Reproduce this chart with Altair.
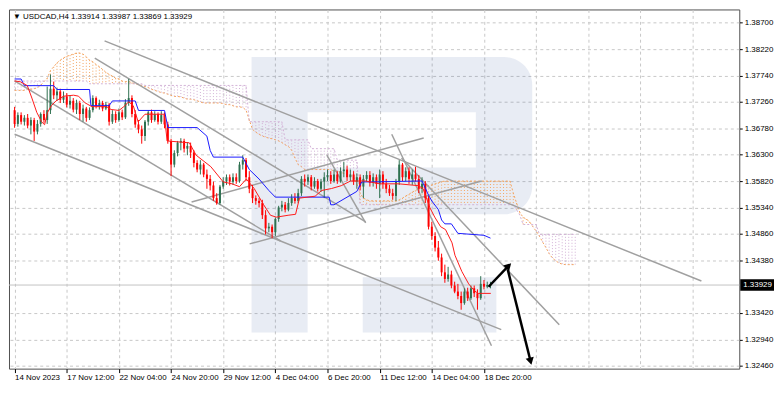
import altair as alt
import pandas as pd

FONT = "Liberation Sans"
W, H = 736, 362
X_DOM = [-0.2, 220.8]
Y_DOM = [1.32408, 1.38942]

title_text = "\u25bc USDCAD,H4  1.33914 1.33987 1.33869 1.33929"
date_labels = ["14 Nov 2023", "17 Nov 12:00", "22 Nov 04:00", "24 Nov 20:00", "29 Nov 12:00",
               "4 Dec 04:00", "6 Dec 20:00", "11 Dec 12:00", "14 Dec 04:00", "18 Dec 20:00"]
y_ticks = [1.3246, 1.3294, 1.3342, 1.3438, 1.3486, 1.3534, 1.3582, 1.3630,
           1.3678, 1.3726, 1.3774, 1.3822, 1.3870]

opens = [1.3711,1.3686,1.3702,1.3690,1.3697,1.3683,1.3693,1.3672,1.3686,1.3704,
         1.3693,1.3711,1.3750,1.3738,1.3745,1.3730,1.3736,1.3721,1.3728,1.3712,
         1.3724,1.3704,1.3714,1.3697,1.3711,1.3733,1.3719,1.3724,1.3714,1.3721,
         1.3690,1.3704,1.3693,1.3707,1.3698,1.3724,1.3733,1.3704,1.3685,1.3676,
         1.3664,1.3690,1.3707,1.3693,1.3704,1.3690,1.3702,1.3685,1.3655,1.3612,
         1.3633,1.3652,1.3655,1.3641,1.3646,1.3634,1.3615,1.3603,1.3612,1.3594,
         1.3586,1.3574,1.3551,1.3542,1.3572,1.3582,1.3589,1.3581,1.3589,1.3582,
         1.3612,1.3620,1.3589,1.3568,1.3551,1.3546,1.3542,1.3520,1.3496,1.3499,
         1.3489,1.3513,1.3534,1.3539,1.3530,1.3542,1.3551,1.3546,1.3560,1.3586,
         1.3581,1.3589,1.3572,1.3582,1.3568,1.3581,1.3589,1.3593,1.3582,1.3594,
         1.3582,1.3600,1.3603,1.3589,1.3594,1.3581,1.3589,1.3572,1.3586,1.3593,
         1.3579,1.3589,1.3577,1.3594,1.3577,1.3568,1.3560,1.3555,1.3581,1.3612,
         1.3589,1.3600,1.3586,1.3594,1.3586,1.3568,1.3577,1.3551,1.3499,1.3482,
         1.3461,1.3443,1.3416,1.3404,1.3412,1.3392,1.3381,1.3373,1.3360,1.3381,
         1.3369,1.3387,1.3378,1.3369,1.3395,1.3390,1.33914]
highs = [1.3717,1.3707,1.3707,1.3702,1.3704,1.3698,1.3697,1.3693,1.3707,1.3711,
         1.3754,1.3776,1.3763,1.3752,1.3750,1.3745,1.3742,1.3738,1.3733,1.3730,
         1.3728,1.3721,1.3717,1.3716,1.3738,1.3736,1.3730,1.3728,1.3726,1.3724,
         1.3711,1.3709,1.3714,1.3712,1.3731,1.3768,1.3738,1.3711,1.3693,1.3683,
         1.3693,1.3711,1.3712,1.3709,1.3707,1.3709,1.3707,1.3690,1.3659,1.3638,
         1.3655,1.3660,1.3659,1.3653,1.3652,1.3638,1.3620,1.3620,1.3615,1.3603,
         1.3593,1.3581,1.3560,1.3575,1.3589,1.3594,1.3594,1.3596,1.3596,1.3617,
         1.3629,1.3624,1.3600,1.3575,1.3556,1.3551,1.3548,1.3529,1.3506,1.3503,
         1.3516,1.3537,1.3546,1.3544,1.3551,1.3558,1.3560,1.3568,1.3591,1.3594,
         1.3594,1.3593,1.3589,1.3586,1.3586,1.3598,1.3603,1.3600,1.3603,1.3600,
         1.3607,1.3617,1.3610,1.3603,1.3600,1.3596,1.3594,1.3593,1.3600,1.3600,
         1.3596,1.3594,1.3603,1.3600,1.3586,1.3575,1.3568,1.3586,1.3620,1.3615,
         1.3607,1.3607,1.3603,1.3608,1.3593,1.3589,1.3582,1.3555,1.3508,1.3489,
         1.3473,1.3450,1.3430,1.3426,1.3419,1.3399,1.3395,1.3381,1.3387,1.3388,
         1.3392,1.3392,1.3385,1.3409,1.3402,1.3399,1.33987]
lows = [1.3679,1.3681,1.3685,1.3683,1.3678,1.3667,1.3655,1.3667,1.3681,1.3688,
        1.3686,1.3704,1.3731,1.3728,1.3724,1.3724,1.3716,1.3714,1.3707,1.3704,
        1.3693,1.3690,1.3690,1.3693,1.3707,1.3714,1.3712,1.3709,1.3711,1.3683,
        1.3686,1.3688,1.3690,1.3693,1.3695,1.3719,1.3698,1.3679,1.3669,1.3650,
        1.3655,1.3683,1.3688,1.3690,1.3685,1.3686,1.3678,1.3650,1.3591,1.3607,
        1.3627,1.3638,1.3634,1.3629,1.3624,1.3607,1.3598,1.3594,1.3589,1.3568,
        1.3565,1.3546,1.3539,1.3539,1.3568,1.3575,1.3574,1.3575,1.3577,1.3579,
        1.3603,1.3582,1.3560,1.3542,1.3539,1.3534,1.3513,1.3485,1.3489,1.3478,
        1.3482,1.3508,1.3527,1.3525,1.3527,1.3537,1.3541,1.3542,1.3555,1.3572,
        1.3575,1.3565,1.3568,1.3563,1.3562,1.3551,1.3582,1.3577,1.3579,1.3577,
        1.3579,1.3589,1.3582,1.3582,1.3575,1.3568,1.3565,1.3551,1.3581,1.3572,
        1.3572,1.3568,1.3551,1.3568,1.3560,1.3555,1.3548,1.3546,1.3575,1.3582,
        1.3582,1.3577,1.3575,1.3581,1.3560,1.3560,1.3542,1.3494,1.3475,1.3454,
        1.3437,1.3409,1.3397,1.3399,1.3387,1.3378,1.3367,1.3348,1.3357,1.3364,
        1.3366,1.3371,1.3348,1.3366,1.3385,1.3387,1.33869]
closes = [1.3686,1.3702,1.3690,1.3697,1.3683,1.3693,1.3672,1.3686,1.3704,1.3693,
          1.3711,1.3750,1.3738,1.3745,1.3730,1.3736,1.3721,1.3728,1.3712,1.3724,
          1.3704,1.3714,1.3697,1.3711,1.3733,1.3719,1.3724,1.3714,1.3721,1.3690,
          1.3704,1.3693,1.3707,1.3698,1.3724,1.3733,1.3704,1.3685,1.3676,1.3664,
          1.3690,1.3707,1.3693,1.3704,1.3690,1.3702,1.3685,1.3655,1.3612,1.3633,
          1.3652,1.3655,1.3641,1.3646,1.3634,1.3615,1.3603,1.3612,1.3594,1.3586,
          1.3574,1.3551,1.3542,1.3572,1.3582,1.3589,1.3581,1.3589,1.3582,1.3612,
          1.3620,1.3589,1.3568,1.3551,1.3546,1.3542,1.3520,1.3496,1.3499,1.3489,
          1.3513,1.3534,1.3539,1.3530,1.3542,1.3551,1.3546,1.3560,1.3586,1.3581,
          1.3589,1.3572,1.3582,1.3568,1.3581,1.3589,1.3593,1.3582,1.3594,1.3582,
          1.3600,1.3603,1.3589,1.3594,1.3581,1.3589,1.3572,1.3586,1.3593,1.3579,
          1.3589,1.3577,1.3594,1.3577,1.3568,1.3560,1.3555,1.3581,1.3612,1.3589,
          1.3600,1.3586,1.3594,1.3586,1.3568,1.3577,1.3551,1.3499,1.3482,1.3461,
          1.3443,1.3416,1.3404,1.3412,1.3392,1.3381,1.3373,1.3360,1.3381,1.3369,
          1.3387,1.3378,1.3369,1.3395,1.3390,1.3393,1.33929]

senkou_a = [1.3747,1.3747,1.3747,1.3747,1.3749,1.3749,1.3750,1.3752,1.3756,1.3763,
            1.3769,1.3783,1.3790,1.3797,1.3802,1.3806,1.3809,1.3811,1.3813,1.3815,
            1.3815,1.3813,1.3808,1.3802,1.3799,1.3794,1.3790,1.3785,1.3780,1.3776,
            1.3773,1.3769,1.3768,1.3764,1.3763,1.3763,1.3761,1.3759,1.3757,1.3756,
            1.3754,1.3752,1.3749,1.3747,1.3745,1.3743,1.3742,1.3740,1.3738,1.3736,
            1.3736,1.3735,1.3733,1.3731,1.3731,1.3730,1.3728,1.3726,1.3724,1.3724,
            1.3724,1.3724,1.3724,1.3724,1.3723,1.3721,1.3721,1.3719,1.3717,1.3717,
            1.3716,1.3711,1.3693,1.3676,1.3671,1.3667,1.3664,1.3662,1.3660,1.3659,
            1.3657,1.3655,1.3652,1.3648,1.3645,1.3638,1.3624,1.3612,1.3608,1.3603,
            1.3603,1.3603,1.3603,1.3603,1.3603,1.3603,1.3603,1.3603,1.3600,1.3600,
            1.3598,1.3596,1.3594,1.3593,1.3589,1.3577,1.3560,1.3551,1.3548,1.3546,
            1.3546,1.3546,1.3546,1.3546,1.3546,1.3546,1.3546,1.3546,1.3548,1.3551,
            1.3555,1.3558,1.3562,1.3565,1.3568,1.3570,1.3572,1.3574,1.3575,1.3577,
            1.3579,1.3581,1.3582,1.3582,1.3582,1.3582,1.3582,1.3582,1.3582,1.3582,
            1.3582,1.3582,1.3582,1.3582,1.3582,1.3582,1.3582,1.3582,1.3582,1.3582,
            1.3582,1.3582,1.3582,1.3560,1.3542,1.3525,1.3516,1.3513,1.3508,1.3499,
            1.3491,1.3482,1.3471,1.3461,1.3450,1.3442,1.3437,1.3433,1.3431,1.3430,
            1.3430,1.3430,1.3430]
senkou_b = ([1.3764] * 23 + [1.3759] * 17 + [1.3756] * 32 + [1.3690] * 11 + [1.3657] * 8
            + [1.3641] * 8 + [1.3620] * 7 + [1.3539] * 48 + [1.3530, 1.3520] + [1.3503] * 5
            + [1.3485] * 12)

kijun_i = [0, 2, 3, 12, 13, 23, 23.4, 29, 30, 37, 38, 46, 47, 56, 59, 60, 61, 70, 72, 75, 78, 80,
           96.5, 97, 98, 105, 106.5, 110, 125, 127, 128, 130, 131, 132, 134, 136, 144, 146]
kijun_p = [1.37677, 1.37677, 1.37556, 1.37556, 1.37486, 1.37486, 1.37192, 1.37192, 1.37278, 1.37278,
           1.37105, 1.37105, 1.36793, 1.36793, 1.36637, 1.36377, 1.36256, 1.36256, 1.36030, 1.35857,
           1.35649, 1.35528, 1.35528, 1.35389, 1.35389, 1.35632, 1.35805, 1.35805, 1.35822, 1.35562,
           1.35458, 1.35302, 1.35112, 1.35042, 1.35042, 1.34869, 1.34834, 1.34782]

tenkan_i = [0, 1.8, 3.9, 5.3, 6.8, 8.3, 9.2, 10.1, 11.3, 12.7, 15.1, 18.1, 19.6, 21.6, 23.7, 28.2,
            29.6, 32, 33.5, 35, 36.4, 37.9, 40, 45.9, 46.8, 53.6, 55.7, 60.2, 64, 66.7, 69, 71.1,
            73.5, 76.4, 78.5, 80.3, 83.9, 86.2, 87.4, 92.2, 94.2, 97.2, 100.2, 103.1, 107.6, 112,
            117.9, 123.9, 125.3, 127.4, 128.9, 130.7, 132.2, 134.2, 135.1, 137.2, 139.3, 141,
            142.2, 146.1]
tenkan_p = [1.37642, 1.37625, 1.37556, 1.37330, 1.37070, 1.36897, 1.36845, 1.37070, 1.37192,
            1.37278, 1.37365, 1.37382, 1.37365, 1.37244, 1.37174, 1.37174, 1.37122, 1.37105,
            1.37174, 1.37261, 1.37192, 1.36897, 1.37036, 1.37036, 1.36550, 1.36516, 1.36290,
            1.36082, 1.35805, 1.35770, 1.35718, 1.35857, 1.35684, 1.35389, 1.35198, 1.35164,
            1.35198, 1.35216, 1.35510, 1.35545, 1.35649, 1.35684, 1.35736, 1.35822, 1.35822,
            1.35770, 1.35770, 1.35736, 1.35684, 1.35337, 1.35164, 1.34990, 1.34938, 1.34696,
            1.34470, 1.34176, 1.33950, 1.33828, 1.33777, 1.33777]

trend_id = ["L1", "L1", "L2", "L2", "L3", "L3", "L4", "L4", "L5", "L5",
            "L6", "L6", "L7", "L7", "L8", "L8", "L9", "L9"]
trend_i = [27.6, 210.7, 24.6, 107.7, 0, 81.6, 0, 149.3, 72.1, 143.3,
           54.3, 125.5, 115.7, 146.3, 95.8, 107.7, 118.7, 167.1]
trend_p = [1.38370, 1.34002, 1.38058, 1.35077, 1.37642, 1.34730, 1.36672, 1.33118, 1.34678, 1.35822,
           1.35441, 1.36602, 1.36672, 1.32824, 1.36290, 1.35060, 1.36238, 1.33205]

arrow_id = ["up", "up", "down", "down"]
arrow_i = [145.4, 151.3, 151.3, 158.2]
arrow_p = [1.33898, 1.34262, 1.34210, 1.32564]
head_i = [151.3, 158.2]
head_p = [1.34262, 1.32564]
head_angle = [44, 166]

# watermark logo pieces (bar index / price)
logo_x0 = [72.7, 89.9, 89.9, 106.8]
logo_x1 = [89.9, 141.5, 141.5, 147.8]
logo_y0 = [1.38076, 1.38076, 1.36065, 1.34072]
logo_y1 = [1.33066, 1.37070, 1.35216, 1.33066]
logo_round = [141.5, 158.8, 1.38076, 1.35216]

GREEN = "#2e7050"
RED = "#ff0000"
ORANGE = "#f4a460"
THISTLE = "#d2b0d6"
LOGO = "#2a5298"

xs = alt.Scale(domain=X_DOM, nice=False, zero=False)
ys = alt.Scale(domain=Y_DOM, nice=False, zero=False)

last_tick = 16 * (len(date_labels) - 1)
lab_js = "[" + ",".join("'%s'" % s for s in date_labels) + "]"
x_axis = alt.Axis(values=list(range(0, 209, 16)), title=None,
                  labelExpr=f"datum.value <= {last_tick} ? {lab_js}[round(datum.value/16)] : ''",
                  grid=True, gridColor="#c8c8c8", gridDash=[3, 3], domain=False,
                  tickSize=4, tickColor="#000000",
                  tickOpacity={"condition": {"test": f"datum.value <= {last_tick}", "value": 1}, "value": 0},
                  labelAlign="left", labelPadding=1, labelFontSize=8, labelFont=FONT,
                  labelColor="#000000", labelOverlap=False, labelFlush=False, labelBound=False)
y_axis = alt.Axis(orient="right", values=y_ticks, format=".5f", title=None,
                  grid=True, gridColor="#c8c8c8", gridDash=[3, 3], domain=False,
                  tickSize=3, tickColor="#000000", labelFontSize=8, labelFont=FONT,
                  labelPadding=2, labelColor="#000000", labelOverlap=False, labelFlush=False)


def X(f):
    return alt.X(f, type="quantitative", scale=xs, axis=x_axis)


def Y(f):
    return alt.Y(f, type="quantitative", scale=ys, axis=y_axis)


bars = pd.DataFrame({"i": list(range(len(opens))), "o": opens, "h": highs, "l": lows, "c": closes})
cloud = pd.DataFrame({"i": list(range(len(senkou_a))), "a": senkou_a, "b": senkou_b})
cloud["col"] = [ORANGE if a >= b else THISTLE for a, b in zip(senkou_a, senkou_b)]
logo = pd.DataFrame({"x0": logo_x0, "x1": logo_x1, "y0": logo_y0, "y1": logo_y1})
logo_r = pd.DataFrame({"x0": [logo_round[0]], "x1": [logo_round[1]],
                       "y0": [logo_round[2]], "y1": [logo_round[3]]})
kijun = pd.DataFrame({"i": kijun_i, "p": kijun_p})
tenkan = pd.DataFrame({"i": tenkan_i, "p": tenkan_p})
trend = pd.DataFrame({"id": trend_id, "i": trend_i, "p": trend_p})
arrows = pd.DataFrame({"id": arrow_id, "i": arrow_i, "p": arrow_p})
heads = pd.DataFrame({"i": head_i, "p": head_p, "ang": head_angle})
last = pd.DataFrame({"p": [closes[-1]], "hi": [closes[-1] + 0.00105], "lo": [closes[-1] - 0.00105],
                     "t": ["%.5f" % closes[-1]]})

candle_color = alt.condition("datum.c >= datum.o", alt.value(GREEN), alt.value(RED))

layers = [
    alt.Chart(logo).mark_rect(color=LOGO, opacity=0.11).encode(x=X("x0"), x2="x1", y=Y("y0"), y2="y1"),
    alt.Chart(logo_r).mark_rect(color=LOGO, opacity=0.11, cornerRadiusTopRight=42,
                                cornerRadiusBottomRight=42).encode(x=X("x0"), x2="x1", y=Y("y0"), y2="y1"),
    alt.Chart(last).mark_rule(color="#c4c4c4", strokeWidth=1).encode(y=Y("p")),
    alt.Chart(cloud).mark_rule(strokeWidth=1, strokeDash=[1, 2]).encode(
        x=X("i"), y=Y("a"), y2="b", color=alt.Color("col:N", scale=None)),
    alt.Chart(cloud).mark_line(color=ORANGE, strokeWidth=1, strokeDash=[2, 2]).encode(x=X("i"), y=Y("a")),
    alt.Chart(cloud).mark_line(color=THISTLE, strokeWidth=1, strokeDash=[2, 2]).encode(x=X("i"), y=Y("b")),
    alt.Chart(trend).mark_line(color="#a0a0a0", strokeWidth=1.5).encode(x=X("i"), y=Y("p"), detail="id:N"),
    alt.Chart(bars).mark_rule(strokeWidth=1).encode(x=X("i"), y=Y("l"), y2="h", color=candle_color),
    alt.Chart(bars).mark_bar(size=2).encode(x=X("i"), y=Y("o"), y2="c", color=candle_color),
    alt.Chart(kijun).mark_line(color="#1a1aff", strokeWidth=1).encode(x=X("i"), y=Y("p")),
    alt.Chart(tenkan).mark_line(color="#ff1a1a", strokeWidth=1).encode(x=X("i"), y=Y("p")),
    alt.Chart(arrows).mark_line(color="#000000", strokeWidth=2.5).encode(x=X("i"), y=Y("p"), detail="id:N"),
    alt.Chart(heads).mark_point(shape="triangle", filled=True, color="#000000", size=70, opacity=1).encode(
        x=X("i"), y=Y("p"), angle=alt.Angle("ang:Q", scale=None)),
    alt.Chart(pd.DataFrame({"t": [title_text]})).mark_text(
        align="left", baseline="middle", fontSize=8, font=FONT, color="#000000").encode(
        x=alt.value(4), y=alt.value(8), text="t:N"),
    alt.Chart(last).mark_rect(color="#000000").encode(x=alt.value(W + 1), x2=alt.value(W + 35),
                                                        y=Y("hi"), y2="lo"),
    alt.Chart(last).mark_text(align="left", baseline="middle", fontSize=8, font=FONT,
                              color="#ffffff").encode(x=alt.value(W + 4), y=Y("p"), text="t:N"),
]

chart = alt.layer(*layers).properties(width=W, height=H, padding=0).configure_view(
    stroke="#505050", strokeWidth=1)

chart.save("out.html", embed_options={"renderer": "svg", "actions": False})
